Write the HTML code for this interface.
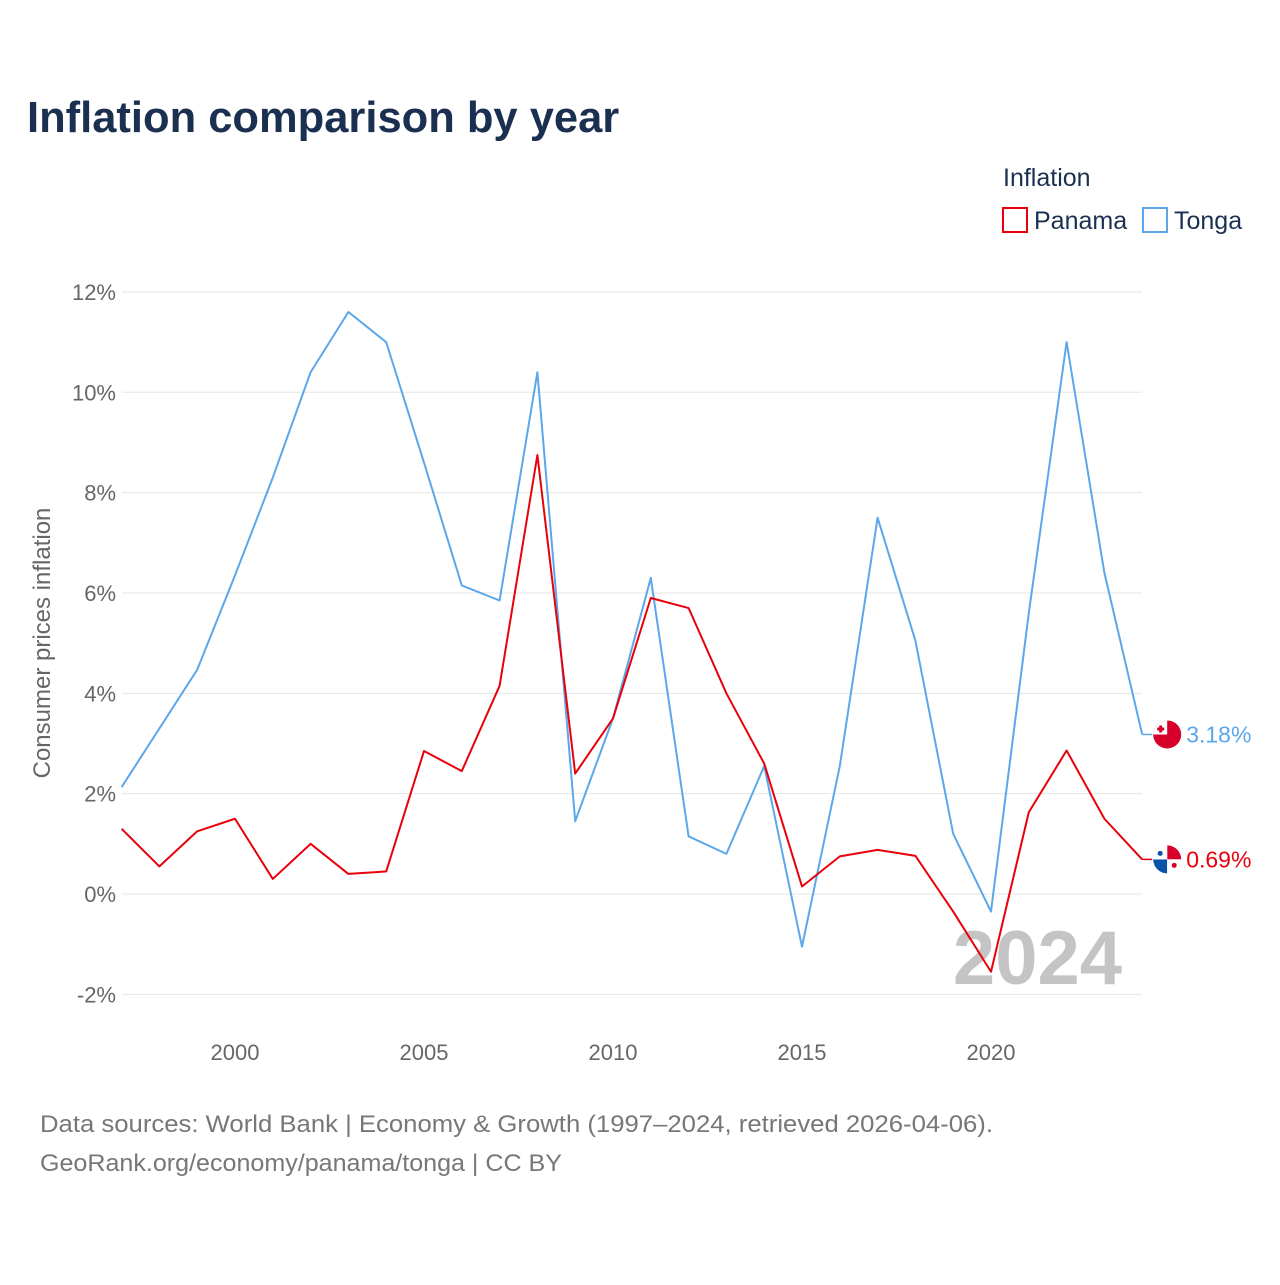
<!DOCTYPE html>
<html><head><meta charset="utf-8"><style>
body{margin:0;background:#fff;font-family:"Liberation Sans",sans-serif;}
</style></head><body>
<svg id="chart" width="1280" height="1280" xmlns="http://www.w3.org/2000/svg" font-family="Liberation Sans, sans-serif">
<rect width="1280" height="1280" fill="#fff"/>
<text x="27" y="132" font-size="43.5" font-weight="bold" fill="#1b3050">Inflation comparison by year</text>
<g>
<text x="1003" y="186" font-size="25" fill="#1b3050">Inflation</text>
<rect x="1003" y="208" width="24" height="24" fill="none" stroke="#e8000b" stroke-width="2"/>
<text x="1034" y="229" font-size="25" fill="#1b3050">Panama</text>
<rect x="1143" y="208" width="24" height="24" fill="none" stroke="#5ba7ea" stroke-width="2"/>
<text x="1174" y="229" font-size="25" fill="#1b3050">Tonga</text>
</g>
<text transform="translate(50,643) rotate(-90)" text-anchor="middle" font-size="24" fill="#666">Consumer prices inflation</text>
<g id="grid"></g><g id="yticks"></g><g id="xticks"></g>
<text x="1122" y="984" text-anchor="end" font-size="76" font-weight="bold" fill="#c4c4c4">2024</text>
<g id="series"></g>
<text x="40" y="1132" font-size="24" fill="#777" textLength="953" lengthAdjust="spacingAndGlyphs">Data sources: World Bank | Economy &amp; Growth (1997–2024, retrieved 2026-04-06).</text>
<text x="40" y="1171" font-size="24" fill="#777" textLength="522" lengthAdjust="spacingAndGlyphs">GeoRank.org/economy/panama/tonga | CC BY</text>
</svg>
<script>
const years=[1997,1998,1999,2000,2001,2002,2003,2004,2005,2006,2007,2008,2009,2010,2011,2012,2013,2014,2015,2016,2017,2018,2019,2020,2021,2022,2023,2024];
const tonga=[2.13,3.3,4.47,6.35,8.3,10.4,11.6,11.0,8.6,6.15,5.85,10.4,1.45,3.5,6.3,1.15,0.8,2.55,-1.05,2.55,7.5,5.05,1.2,-0.35,5.6,11.0,6.4,3.18];
const panama=[1.3,0.55,1.25,1.5,0.3,1.0,0.4,0.45,2.85,2.45,4.15,8.75,2.4,3.5,5.9,5.7,4.0,2.6,0.15,0.75,0.88,0.76,-0.35,-1.55,1.63,2.86,1.5,0.69];
const yTicks=[-2,0,2,4,6,8,10,12];
const xTicks=[2000,2005,2010,2015,2020];
const NS="http://www.w3.org/2000/svg";
const x=v=>235+(v-2000)*37.8;
const y=v=>894-v*50.17;
function el(t,a,p){const e=document.createElementNS(NS,t);for(const k in a)e.setAttribute(k,a[k]);document.getElementById(p).appendChild(e);return e;}
yTicks.forEach(t=>{
 const g=el('line',{x1:122,x2:1142,y1:y(t),y2:y(t),stroke:'#e6e6e6','stroke-width':1},'grid');
 
 
 const l=el('text',{x:116,y:y(t)+8,'text-anchor':'end','font-size':22,fill:'#666'},'yticks');
 l.textContent=t+'%';
 
 
});
xTicks.forEach(t=>{
 const l=el('text',{x:x(t),y:1060,'text-anchor':'middle','font-size':22,fill:'#666'},'xticks');
 l.textContent=t;
 
 
});
function series(vals,color,name,flag){
 const pts=vals.map((v,i)=>x(years[i])+','+y(v)).join(' ');
 const p=el('polyline',{points:pts,fill:'none',stroke:color,'stroke-width':2,'stroke-linejoin':'round'},'series');
 
 
 const last=vals[vals.length-1],lx=x(years[years.length-1]),ly=y(last);
 const c=el('line',{x1:lx,x2:lx+10,y1:ly,y2:ly,stroke:color,'stroke-width':1.5},'series');
 
 
 const f=el('g',{},'series');
 
 
 f.innerHTML=flag(lx+25,ly);
 const t=el('text',{x:lx+44,y:ly+8,'font-size':23,fill:color},'series');
 t.textContent=last.toFixed(2)+'%';
 
 
}
series(tonga,'#5ba7ea','tonga',(cx,cy)=>`<circle cx="${cx}" cy="${cy}" r="14" fill="#d6002a"/><path d="M${cx-14} ${cy} A14 14 0 0 1 ${cx} ${cy-14} L${cx} ${cy} Z" fill="#fff"/><path d="M${cx-8} ${cy-9}h3v2h2v3h-2v2h-3v-2h-2v-3h2z" fill="#d6002a"/>`);
series(panama,'#e8000b','panama',(cx,cy)=>`<path d="M${cx} ${cy} L${cx} ${cy-14} A14 14 0 0 1 ${cx+14} ${cy} Z" fill="#d6002a"/><path d="M${cx} ${cy} L${cx-14} ${cy} A14 14 0 0 0 ${cx} ${cy+14} Z" fill="#0a52a5"/><path d="M${cx} ${cy} L${cx-14} ${cy} A14 14 0 0 1 ${cx} ${cy-14} Z" fill="#fff"/><path d="M${cx} ${cy} L${cx} ${cy+14} A14 14 0 0 0 ${cx+14} ${cy} Z" fill="#fff"/><circle cx="${cx-7}" cy="${cy-6}" r="2.5" fill="#0a52a5"/><circle cx="${cx+7}" cy="${cy+6}" r="2.5" fill="#d6002a"/>`);
</script>
</body></html>
